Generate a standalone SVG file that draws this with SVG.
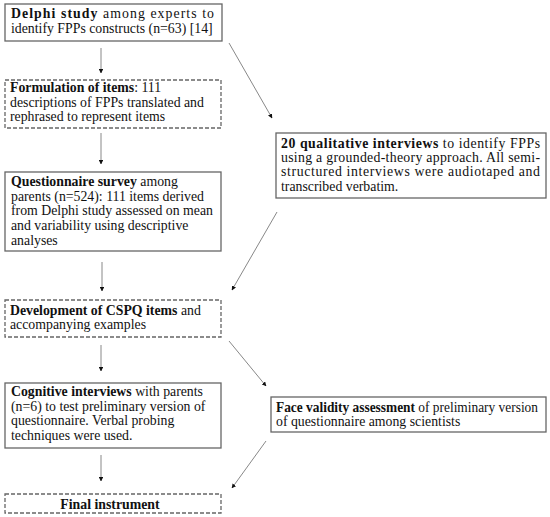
<svg xmlns="http://www.w3.org/2000/svg" width="550" height="517" viewBox="0 0 550 517">
<defs>
<style>
.box{fill:#fff;stroke:#666;stroke-width:1.3}
.dash{stroke-dasharray:4 2}
text{font-family:"Liberation Serif","Times New Roman",serif;font-size:13.8px;fill:#111}
.b{font-weight:bold}
.c{stroke:#888;stroke-width:1;fill:none;marker-end:url(#ah)}
</style>
<marker id="ah" viewBox="0 0 10 10" refX="9" refY="5" markerWidth="4.5" markerHeight="4.5" orient="auto" markerUnits="userSpaceOnUse">
<path d="M0,0 L10,5 L0,10 z" fill="#111"/>
</marker>
</defs>
<rect width="550" height="517" fill="#fff"/>
<g id="connectors">
<line class="c" x1="101" y1="48" x2="101" y2="73"/>
<line class="c" x1="229" y1="43" x2="272" y2="118"/>
<line class="c" x1="101" y1="133" x2="101" y2="164"/>
<line class="c" x1="277" y1="212" x2="232" y2="290"/>
<line class="c" x1="102" y1="262" x2="102" y2="291"/>
<line class="c" x1="101" y1="345" x2="101" y2="371"/>
<line class="c" x1="229" y1="341" x2="266" y2="386"/>
<line class="c" x1="101" y1="455" x2="101" y2="481"/>
<line class="c" x1="266" y1="441" x2="232" y2="488"/>
</g>
<g id="delphi">
<rect class="box" x="5" y="4" width="217" height="37"/>
<text x="11" y="18" textLength="203" lengthAdjust="spacing"><tspan class="b">Delphi study</tspan> among experts to</text>
<text x="11" y="33">identify FPPs constructs (n=63) [14]</text>
</g>
<g id="formulation">
<rect class="box dash" x="5" y="80" width="216" height="48"/>
<text x="10" y="92"><tspan class="b">Formulation of items</tspan>: 111</text>
<text x="10" y="106.5">descriptions of FPPs translated and</text>
<text x="10" y="121">rephrased to represent items</text>
</g>
<g id="qualitative">
<rect class="box" x="276" y="133" width="270" height="65"/>
<text x="281" y="148" textLength="259" lengthAdjust="spacing"><tspan class="b">20 qualitative interviews</tspan> to identify FPPs</text>
<text x="281" y="162" textLength="259" lengthAdjust="spacing">using a grounded-theory approach. All semi-</text>
<text x="281" y="176" textLength="259" lengthAdjust="spacing">structured interviews were audiotaped and</text>
<text x="281" y="190.5">transcribed verbatim.</text>
</g>
<g id="questionnaire">
<rect class="box" x="5" y="172" width="216" height="79"/>
<text x="11" y="186"><tspan class="b">Questionnaire survey</tspan> among</text>
<text x="11" y="200.5">parents (n=524): 111 items derived</text>
<text x="11" y="215">from Delphi study assessed on mean</text>
<text x="11" y="230">and variability using descriptive</text>
<text x="11" y="245">analyses</text>
</g>
<g id="development">
<rect class="box dash" x="5" y="300" width="216" height="37"/>
<text x="10" y="314.5"><tspan class="b">Development of CSPQ items</tspan> and</text>
<text x="10" y="328.5">accompanying examples</text>
</g>
<g id="cognitive">
<rect class="box" x="5" y="383" width="216" height="65"/>
<text x="11" y="396"><tspan class="b">Cognitive interviews</tspan> with parents</text>
<text x="11" y="410.5">(n=6) to test preliminary version of</text>
<text x="11" y="425">questionnaire. Verbal probing</text>
<text x="11" y="439.5">techniques were used.</text>
</g>
<g id="face">
<rect class="box" x="271" y="397" width="275" height="35"/>
<text x="276" y="412" textLength="262" lengthAdjust="spacingAndGlyphs"><tspan class="b">Face validity assessment</tspan> of preliminary version</text>
<text x="276" y="426">of questionnaire among scientists</text>
</g>
<g id="final">
<rect class="box dash" x="5" y="494" width="216" height="19"/>
<text x="110" y="508.5" text-anchor="middle" class="b">Final instrument</text>
</g>
</svg>
